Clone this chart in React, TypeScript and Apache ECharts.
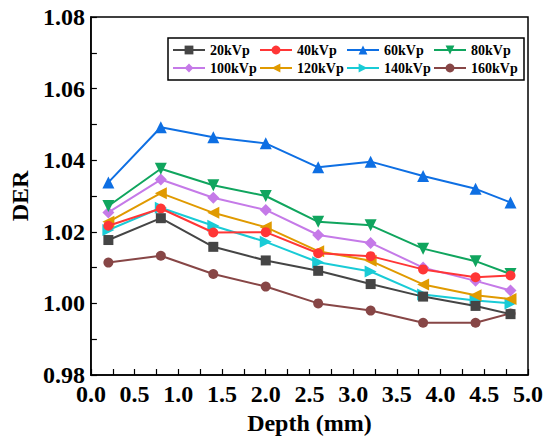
import React, { useEffect, useRef } from "react";
import * as echarts from "echarts";

const depths = [0.2, 0.8, 1.4, 2.0, 2.6, 3.2, 3.8, 4.4, 4.8];
const seriesNames = ["20kVp", "40kVp", "60kVp", "80kVp", "100kVp", "120kVp", "140kVp", "160kVp"];
const kv20 = [1.0177, 1.0238, 1.0158, 1.012, 1.0091, 1.0054, 1.0019, 0.9993, 0.997];
const kv40 = [1.0217, 1.0265, 1.0198, 1.0199, 1.014, 1.0132, 1.0095, 1.0073, 1.0078];
const kv60 = [1.0338, 1.0492, 1.0464, 1.0447, 1.038, 1.0396, 1.0356, 1.032, 1.0282];
const kv80 = [1.0272, 1.0376, 1.033, 1.03, 1.0228, 1.0218, 1.0153, 1.0118, 1.0082];
const kv100 = [1.0254, 1.0346, 1.0295, 1.0261, 1.0191, 1.0169, 1.01, 1.0063, 1.0036];
const kv120 = [1.0228, 1.0308, 1.0253, 1.0213, 1.0146, 1.0119, 1.0053, 1.0023, 1.0012];
const kv140 = [1.0205, 1.0267, 1.0217, 1.0172, 1.0115, 1.0089, 1.0025, 1.0008, 1.0];
const kv160 = [1.0114, 1.0133, 1.0082, 1.0047, 1.0, 0.998, 0.9946, 0.9946, 0.9972];
const allValues = [kv20, kv40, kv60, kv80, kv100, kv120, kv140, kv160];

const colors = ["#454545", "#ff3636", "#0e6fe3", "#10a55e", "#c57ae8", "#e09a00", "#19cbd6", "#874646"];
const symbols = ["rect", "circle", "triangle", "triangle", "diamond", "triangle", "triangle", "circle"];
const rotations = [0, 0, 0, 180, 0, 90, -90, 0];
const symbolSizes = [10, 10, 12, 12, 12, 12, 12, 10];

const FONT = "'Liberation Serif', 'Times New Roman', serif";

export default function App() {
  const ref = useRef<HTMLDivElement>(null);
  useEffect(() => {
    if (!ref.current) return;
    const chart = echarts.init(ref.current, undefined, { renderer: "svg" });
    const series = seriesNames.map((name, i) => ({
      name,
      type: "line",
      data: depths.map((d, j) => [d, allValues[i][j]]),
      symbol: symbols[i],
      symbolRotate: rotations[i],
      symbolSize: symbolSizes[i],
      showAllSymbol: true,
      lineStyle: { color: colors[i], width: 2 },
      itemStyle: { color: colors[i] },
      z: 10 - i,
    }));
    chart.setOption({
      animation: false,
      backgroundColor: "#ffffff",
      grid: {
        left: 84,
        top: 17,
        right: 22,
        bottom: 66,
        show: true,
        borderColor: "#000",
        borderWidth: 1.5,
      },
      legend: {
        left: 168,
        top: 38,
        width: 352,
        padding: [3, 4, 3, 4],
        borderColor: "#000",
        borderWidth: 1.5,
        itemGap: 0,
        itemWidth: 32,
        itemHeight: 11,
        textStyle: {
          fontFamily: FONT,
          fontWeight: "bold",
          fontSize: 14,
          color: "#000",
          width: 49,
          height: 18,
          lineHeight: 18,
        },
        data: seriesNames,
      },
      xAxis: {
        type: "value",
        min: 0,
        max: 5,
        interval: 0.5,
        name: "Depth (mm)",
        nameLocation: "middle",
        nameGap: 33,
        nameTextStyle: { fontFamily: FONT, fontWeight: "bold", fontSize: 24, color: "#000" },
        axisLine: { lineStyle: { color: "#000", width: 1.5 } },
        axisTick: { inside: true, length: 6, lineStyle: { color: "#000", width: 1.2 } },
        minorTick: { show: true, splitNumber: 2, length: 6, lineStyle: { color: "#000", width: 1.2 } },
        splitLine: { show: false },
        axisLabel: {
          fontFamily: FONT,
          fontWeight: "bold",
          fontSize: 24,
          color: "#000",
          margin: 7,
          formatter: (v: number) => v.toFixed(1),
        },
      },
      yAxis: {
        type: "value",
        min: 0.98,
        max: 1.08,
        interval: 0.02,
        name: "DER",
        nameLocation: "middle",
        nameGap: 58,
        nameTextStyle: { fontFamily: FONT, fontWeight: "bold", fontSize: 24, color: "#000" },
        axisLine: { show: true, lineStyle: { color: "#000", width: 1.5 } },
        axisTick: { inside: true, length: 6, lineStyle: { color: "#000", width: 1.2 } },
        minorTick: { show: true, splitNumber: 2, length: 6, lineStyle: { color: "#000", width: 1.2 } },
        splitLine: { show: false },
        axisLabel: {
          fontFamily: FONT,
          fontWeight: "bold",
          fontSize: 24,
          color: "#000",
          margin: 6,
          formatter: (v: number) => v.toFixed(2),
        },
      },
      series,
    });
    return () => chart.dispose();
  }, []);
  return (
    <div
      ref={ref}
      style={{ position: "fixed", left: 0, top: 0, width: 550, height: 441, background: "#fff" }}
    />
  );
}
